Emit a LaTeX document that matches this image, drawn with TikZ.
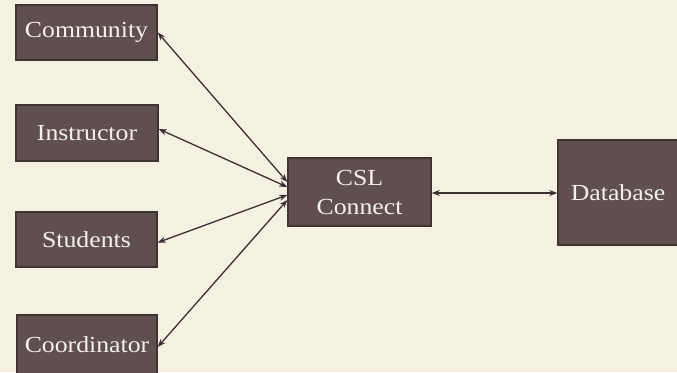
\documentclass[tikz,border=0pt]{standalone}
\usepackage{fontspec}
\setmainfont{Liberation Serif}[FakeStretch=1.12]
\usetikzlibrary{arrows.meta}
\definecolor{bg}{HTML}{F4F0E2}
\definecolor{boxfill}{HTML}{5F4F4F}
\definecolor{boxline}{HTML}{3E3434}
\definecolor{txt}{HTML}{F3F0E9}
\definecolor{wire}{HTML}{3A3030}
\tikzset{
  entity/.style={draw=boxline, line width=1.4pt, fill=boxfill, text=txt,
    inner sep=0pt, font=\fontsize{23}{29}\selectfont, align=center},
  link/.style={draw=wire, line width=1.3pt, {Stealth[length=8pt,width=6pt,inset=2.5pt]}-{Stealth[length=8pt,width=6pt,inset=2.5pt]}}
}
\begin{document}
\begin{tikzpicture}[x=1pt,y=-1pt]
\fill[bg] (0,0) rectangle (677,372);
\useasboundingbox (0,0) rectangle (677,372);
\begin{scope}
\clip (0,0) rectangle (677,372);
\node[entity, minimum width=141pt, minimum height=55pt] (com) at (86.5,32.5) {Community};
\node[entity, minimum width=142pt, minimum height=56pt] (ins) at (87,133) {Instructor};
\node[entity, minimum width=141pt, minimum height=55pt] (stu) at (86.5,239.5) {Students};
\node[entity, minimum width=140pt, minimum height=60pt] (coo) at (87,345) {Coordinator};
\node[entity, minimum width=143pt, minimum height=68pt] (csl) at (359.5,192) {CSL\\Connect};
\node[entity, minimum width=120pt, minimum height=105pt] (db) at (618,192.5) {Database};
\draw[link] (com.east) -- ([yshift=10pt]csl.west);
\draw[link] ([yshift=4pt]ins.east) -- ([yshift=5pt]csl.west);
\draw[link] ([yshift=-3pt]stu.east) -- ([yshift=-3pt]csl.west);
\draw[link] ([yshift=-2pt]coo.east) -- ([yshift=-8pt]csl.west);
\draw[link] ([yshift=-1pt]csl.east) -- ([yshift=-0.5pt]db.west);
\end{scope}
\end{tikzpicture}
\end{document}
